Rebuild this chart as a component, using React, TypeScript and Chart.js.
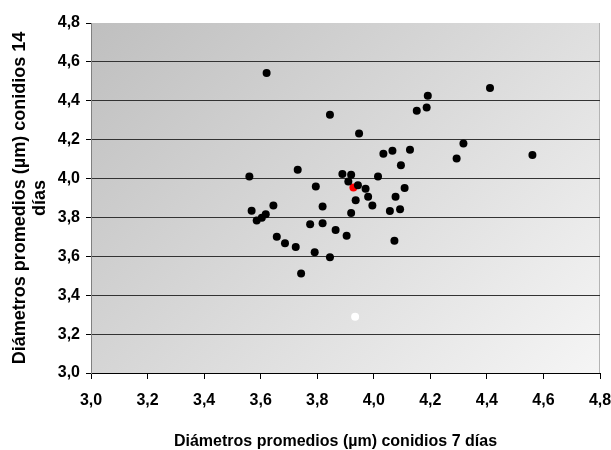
import React, { useEffect, useRef } from "react";
import { Chart, registerables } from "chart.js";

Chart.register(...registerables);

// Diámetro 7 días (x) y 14 días (y)
const xValues = [
  3.621, 3.845, 3.731, 3.56, 3.795, 3.819, 3.645, 3.568, 3.618, 3.604,
  3.586, 3.775, 3.819, 4.191, 4.187, 4.152, 4.411, 3.948, 4.317, 4.293,
  4.561, 4.034, 4.066, 4.128, 4.096, 3.889, 3.92, 3.91, 3.944, 4.015,
  3.971, 3.98, 3.936, 3.995, 4.109, 4.077, 3.92, 4.057, 4.093, 3.865,
  3.657, 3.686, 3.724, 3.791, 3.845, 3.743, 3.904, 4.073,
];
const yValues = [
  4.543, 4.328, 4.045, 4.01, 3.959, 3.856, 3.861, 3.834, 3.817, 3.799,
  3.784, 3.765, 3.77, 4.426, 4.366, 4.349, 4.466, 4.232, 4.18, 4.103,
  4.121, 4.127, 4.143, 4.148, 4.069, 4.024, 4.019, 3.985, 3.966, 4.01,
  3.947, 3.907, 3.889, 3.861, 3.952, 3.907, 3.823, 3.833, 3.842, 3.735,
  3.701, 3.667, 3.648, 3.621, 3.595, 3.512, 3.706, 3.68,
];
const redX = [3.928];
const redY = [3.954];
const whiteX = [3.934];
const whiteY = [3.289];

const axisMin = 3.0;
const axisMax = 4.8;
const axisStep = 0.2;

const xTitle = "Diámetros promedios (µm) conidios 7 días";
const yTitle = ["Diámetros promedios (µm) conidios 14", "días"];

const FONT = "'Liberation Sans', Arial, sans-serif";

const fmt = (v: number | string) => Number(v).toFixed(1).replace(".", ",");

const toPoints = (xs: number[], ys: number[]) => xs.map((x, i) => ({ x, y: ys[i] }));

const plotPlugin = {
  id: "plotDecor",
  beforeDraw(chart: any) {
    const { ctx, chartArea } = chart;
    const { left, top, right, bottom } = chartArea;
    const w = right - left;
    const h = bottom - top;
    const s = (w + h) / 2;
    const g = ctx.createLinearGradient(left, top, left + s, top + s);
    g.addColorStop(0, "#bfbfbf");
    g.addColorStop(1, "#f5f5f5");
    ctx.save();
    ctx.fillStyle = g;
    ctx.fillRect(left, top, w, h);
    ctx.strokeStyle = "#b4b4b4";
    ctx.lineWidth = 1;
    ctx.beginPath();
    ctx.moveTo(Math.round(right) - 0.5, top);
    ctx.lineTo(Math.round(right) - 0.5, bottom);
    ctx.stroke();
    ctx.restore();
  },
  afterDraw(chart: any) {
    const { ctx, chartArea } = chart;
    ctx.save();
    ctx.fillStyle = "#000";
    ctx.font = `bold 16px ${FONT}`;
    ctx.textAlign = "center";
    ctx.textBaseline = "middle";
    ctx.fillText(xTitle, (chartArea.left + chartArea.right) / 2 - 10, 442);
    ctx.restore();
  },
};

export default function App() {
  const ref = useRef<HTMLCanvasElement | null>(null);

  useEffect(() => {
    document.body.style.margin = "0";
    if (!ref.current) return;
    const chart = new Chart(ref.current, {
      type: "scatter",
      data: {
        datasets: [
          {
            data: toPoints(xValues, yValues),
            backgroundColor: "#000",
            borderWidth: 0,
            pointRadius: 4,
          },
          {
            data: toPoints(redX, redY),
            backgroundColor: "#ff0000",
            borderWidth: 0,
            pointRadius: 4,
          },
          {
            data: toPoints(whiteX, whiteY),
            backgroundColor: "#ffffff",
            borderWidth: 0,
            pointRadius: 4,
          },
        ],
      },
      options: {
        animation: false,
        responsive: false,
        devicePixelRatio: 1,
        layout: { padding: { top: 23, right: 11, left: 0, bottom: 0 } },
        plugins: {
          legend: { display: false },
          tooltip: { enabled: false },
        },
        scales: {
          x: {
            type: "linear",
            min: axisMin,
            max: axisMax,
            afterFit: (s: any) => {
              s.height = 77;
              s.paddingLeft = 0;
              s.paddingRight = 0;
            },
            ticks: {
              stepSize: axisStep,
              color: "#000",
              font: { family: FONT, size: 16, weight: "bold" },
              padding: 12,
              maxRotation: 0,
              autoSkip: false,
              callback: (v: any) => fmt(v),
            },
            grid: {
              drawOnChartArea: false,
              drawTicks: true,
              tickLength: 6,
              tickColor: "#000",
            },
            border: { display: true, color: "#000", width: 1 },
          },
          y: {
            type: "linear",
            min: axisMin,
            max: axisMax,
            afterFit: (s: any) => {
              s.width = 91;
              s.paddingTop = 0;
              s.paddingBottom = 0;
            },
            ticks: {
              stepSize: axisStep,
              color: "#000",
              font: { family: FONT, size: 16, weight: "bold" },
              padding: 6,
              autoSkip: false,
              callback: (v: any) => fmt(v),
            },
            grid: {
              color: (c: any) =>
                c.tick && Math.abs(c.tick.value - axisMax) < 1e-6 ? "rgba(0,0,0,0)" : "#333",
              lineWidth: 1,
              drawTicks: true,
              tickLength: 5,
              tickColor: "#000",
            },
            border: { display: true, color: "#808080", width: 1 },
            title: {
              display: true,
              text: yTitle,
              color: "#000",
              font: { family: FONT, size: 18, weight: "bold", lineHeight: 1.1 },
              padding: { top: 10, bottom: 0 },
            },
          },
        },
      },
      plugins: [plotPlugin],
    });
    return () => chart.destroy();
  }, []);

  return (
    <div style={{ width: 611, height: 450 }}>
      <canvas ref={ref} width={611} height={450} />
    </div>
  );
}
